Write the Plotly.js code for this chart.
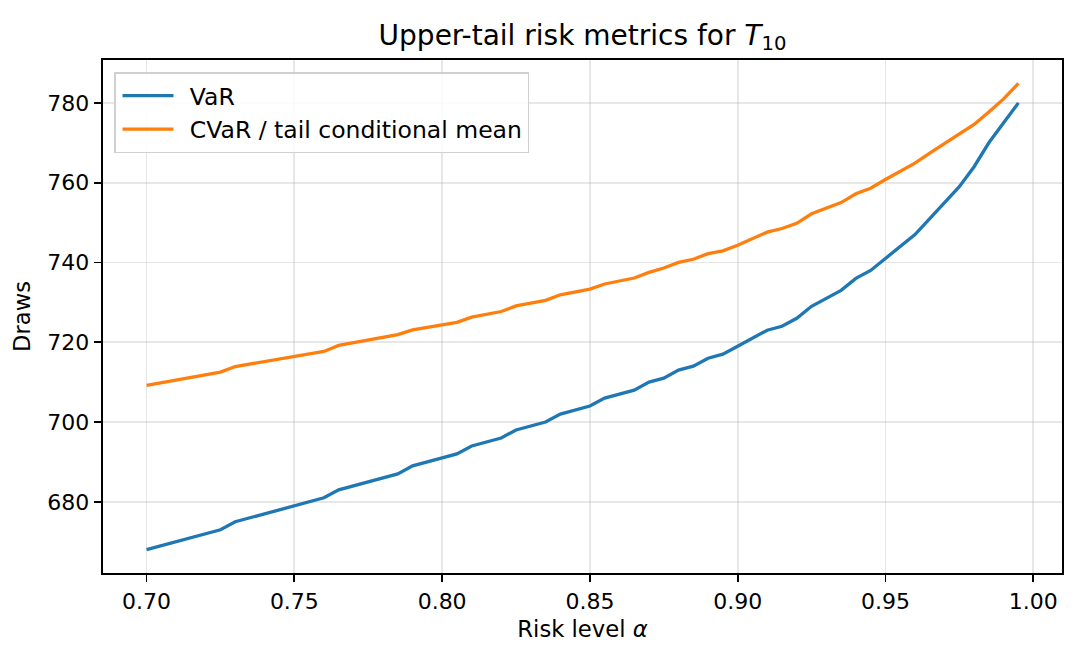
<!DOCTYPE html>
<html>
<head>
<meta charset="utf-8">
<script src="https://cdn.plot.ly/plotly-3.0.1.min.js"></script>
<style>
  html, body { margin: 0; padding: 0; background: #fff; }
  #chart { width: 1088px; height: 656px; }
</style>
</head>
<body>
<div id="chart"></div>
<script>
// Risk levels alpha
const alphas = [
  0.700, 0.705, 0.710, 0.715, 0.720, 0.725, 0.730, 0.735, 0.740, 0.745,
  0.750, 0.755, 0.760, 0.765, 0.770, 0.775, 0.780, 0.785, 0.790, 0.795,
  0.800, 0.805, 0.810, 0.815, 0.820, 0.825, 0.830, 0.835, 0.840, 0.845,
  0.850, 0.855, 0.860, 0.865, 0.870, 0.875, 0.880, 0.885, 0.890, 0.895,
  0.900, 0.905, 0.910, 0.915, 0.920, 0.925, 0.930, 0.935, 0.940, 0.945,
  0.950, 0.955, 0.960, 0.965, 0.970, 0.975, 0.980, 0.985, 0.990, 0.995
];

// Value at Risk (quantile of T10)
const varValues = [
  668, 669, 670, 671, 672, 673, 675, 676, 677, 678,
  679, 680, 681, 683, 684, 685, 686, 687, 689, 690,
  691, 692, 694, 695, 696, 698, 699, 700, 702, 703,
  704, 706, 707, 708, 710, 711, 713, 714, 716, 717,
  719, 721, 723, 724, 726, 729, 731, 733, 736, 738,
  741, 744, 747, 751, 755, 759, 764, 770, 775, 780
];

// Conditional VaR (mean of the upper tail)
const cvarValues = [
  709.2, 709.9, 710.5, 711.2, 711.8, 712.5, 713.9, 714.5, 715.2, 715.8,
  716.4, 717.1, 717.7, 719.2, 719.9, 720.5, 721.2, 721.9, 723.1, 723.7,
  724.4, 725.0, 726.3, 727.0, 727.7, 729.1, 729.8, 730.5, 731.9, 732.6,
  733.3, 734.6, 735.4, 736.1, 737.5, 738.6, 740.0, 740.8, 742.2, 742.9,
  744.3, 746.0, 747.6, 748.5, 749.8, 752.2, 753.6, 755.0, 757.2, 758.6,
  760.8, 762.8, 764.9, 767.4, 769.8, 772.1, 774.6, 777.7, 781.0, 784.9
];

const seriesNames = ['VaR', 'CVaR / tail conditional mean'];
const xTicks = [0.70, 0.75, 0.80, 0.85, 0.90, 0.95, 1.00];
const yTicks = [680, 700, 720, 740, 760, 780];

const FONT = 'DejaVu Sans, sans-serif';

const traces = [
  {
    x: alphas, y: varValues, name: seriesNames[0],
    type: 'scatter', mode: 'lines',
    line: { color: '#1f77b4', width: 3.3 }
  },
  {
    x: alphas, y: cvarValues, name: seriesNames[1],
    type: 'scatter', mode: 'lines',
    line: { color: '#ff7f0e', width: 3.3 }
  }
];

// 5% padding around the data on both axes
const xMin = Math.min(...alphas), xMax = Math.max(...alphas);
const yMin = Math.min(...varValues, ...cvarValues), yMax = Math.max(...varValues, ...cvarValues);
const xPad = (xMax - xMin) * 0.05, yPad = (yMax - yMin) * 0.05;

const axisCommon = {
  showline: true, mirror: true, linecolor: '#000', linewidth: 1.8,
  ticks: 'outside', ticklen: 7.5, tickwidth: 1.8, tickcolor: '#000',
  showgrid: true, gridcolor: 'rgba(176,176,176,0.3)', gridwidth: 1.8,
  zeroline: false,
  tickfont: { family: FONT, size: 22, color: '#000' }
};

const layout = {
  width: 1088, height: 656,
  margin: { l: 103, r: 26, t: 60, b: 83 },
  paper_bgcolor: '#fff', plot_bgcolor: '#fff',
  font: { family: FONT, color: '#000' },
  title: {
    text: 'Upper-tail risk metrics for <i>T</i><sub>10</sub>',
    font: { family: FONT, size: 28, color: '#000' },
    x: 0.5, xanchor: 'center', xref: 'paper',
    y: 0.947, yanchor: 'middle', yref: 'container'
  },
  xaxis: Object.assign({}, axisCommon, {
    range: [xMin - xPad, xMax + xPad],
    tickvals: xTicks, tickformat: '.2f',
    title: { text: 'Risk level <i>α</i>', font: { family: FONT, size: 22.7, color: '#000' }, standoff: 8 }
  }),
  yaxis: Object.assign({}, axisCommon, {
    range: [yMin - yPad, yMax + yPad],
    tickvals: yTicks,
    title: { text: 'Draws', font: { family: FONT, size: 22.7, color: '#000' }, standoff: 10 }
  }),
  showlegend: true,
  legend: {
    x: 0.0118, y: 0.976, xanchor: 'left', yanchor: 'top',
    bgcolor: 'rgba(255,255,255,0.85)', bordercolor: '#d0d0d0', borderwidth: 1.5,
    font: { family: FONT, size: 23.5, color: '#000' },
    itemwidth: 64
  }
};

Plotly.newPlot('chart', traces, layout, { displayModeBar: false, staticPlot: true }).then(gd => {
  // lengthen the legend line handles
  const handleLeft = 122.5, handleLen = 51;
  const host = gd.getBoundingClientRect();
  gd.querySelectorAll('.legend .legendlines path').forEach(p => {
    const r = p.getBoundingClientRect();
    const shift = (handleLeft + host.left) - r.left;
    p.setAttribute('d', 'M' + (5 + shift).toFixed(1) + ',0h' + handleLen);
  });
});
</script>
</body>
</html>
